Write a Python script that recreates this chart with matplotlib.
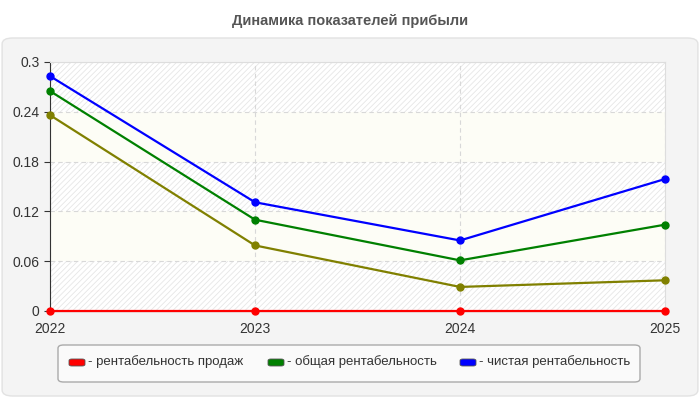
import matplotlib.pyplot as plt
from matplotlib.patches import FancyBboxPatch

years = ["2022", "2023", "2024", "2025"]
sales_prof = [0.0, 0.0, 0.0, 0.0]
olive_prof = [0.236, 0.079, 0.029, 0.037]
total_prof = [0.265, 0.110, 0.061, 0.104]
net_prof = [0.283, 0.131, 0.085, 0.159]
y_ticks = [0, 0.06, 0.12, 0.18, 0.24, 0.3]
legend_labels = ["- рентабельность продаж", "- общая рентабельность", "- чистая рентабельность"]
legend_colors = ["#ff0000", "#008000", "#0000ff"]

plt.rcParams['font.family'] = ['Liberation Sans', 'DejaVu Sans']
plt.rcParams['hatch.linewidth'] = 0.6
plt.rcParams['hatch.color'] = '#e8e8e8'

fig = plt.figure(figsize=(7, 4), dpi=100)
fig.patch.set_facecolor("white")

# background panel
panel = FancyBboxPatch((0.003, 0.01), 0.994, 0.895, boxstyle="round,pad=0,rounding_size=0.015",
                       transform=fig.transFigure, facecolor="#f4f4f4", edgecolor="#e2e2e2", lw=1, zorder=-5)
fig.patches.append(panel)

fig.text(0.5, 0.948, "Динамика показателей прибыли", ha="center", va="center",
         fontsize=10.5, fontweight="bold", color="#555555")

ax = fig.add_axes([50 / 700, 1 - 311 / 400, 615 / 700, 249 / 400])
ax.set_facecolor("white")
x = list(range(len(years)))

# alternating bands
for i in range(len(y_ticks) - 1):
    if i % 2 == 0:
        ax.axhspan(y_ticks[i], y_ticks[i + 1], facecolor="white", hatch="//////", edgecolor="#e6e6e6", lw=0, zorder=0)
    else:
        ax.axhspan(y_ticks[i], y_ticks[i + 1], facecolor="#fdfdf6", lw=0, zorder=0)

ax.grid(True, color="#d8d8d8", linestyle=(0, (4, 3)), linewidth=0.8, zorder=1)
ax.set_axisbelow(True)

for vals, c in [(olive_prof, "#808000"), (total_prof, "#008000"), (net_prof, "#0000ff"), (sales_prof, "#ff0000")]:
    ax.plot(x, vals, color=c, lw=1.6, marker="o", markersize=5, clip_on=False, zorder=3)

ax.set_xlim(0, len(years) - 1)
ax.set_ylim(0, 0.3)
ax.set_xticks(x)
ax.set_xticklabels(years)
ax.set_yticks(y_ticks)
ax.set_yticklabels(["0", "0.06", "0.12", "0.18", "0.24", "0.3"])
ax.tick_params(axis="both", labelsize=10, colors="#333333", length=4)
ax.tick_params(axis="x", length=0, pad=8)
ax.spines["left"].set_color("#333333")
ax.spines["bottom"].set_color("#333333")
ax.spines["top"].set_color("#dddddd")
ax.spines["right"].set_color("#dddddd")

# legend box
lg = FancyBboxPatch((58 / 700, 1 - 382 / 400), 582 / 700, 37 / 400, boxstyle="round,pad=0,rounding_size=0.008",
                    transform=fig.transFigure, facecolor="#fafafa", edgecolor="#aaaaaa", lw=1, zorder=-4)
fig.patches.append(lg)
starts = [69, 268, 460]
for sx, lab, c in zip(starts, legend_labels, legend_colors):
    sw = FancyBboxPatch((sx / 700, 1 - 366 / 400), 16 / 700, 7 / 400, boxstyle="round,pad=0,rounding_size=0.004",
                        transform=fig.transFigure, facecolor=c, edgecolor="#555555", lw=0.6, zorder=-3)
    fig.patches.append(sw)
    fig.text((sx + 19) / 700, 1 - 362 / 400, lab, ha="left", va="center", fontsize=9.5, color="#333333")

fig.savefig("out.png", dpi=100)
